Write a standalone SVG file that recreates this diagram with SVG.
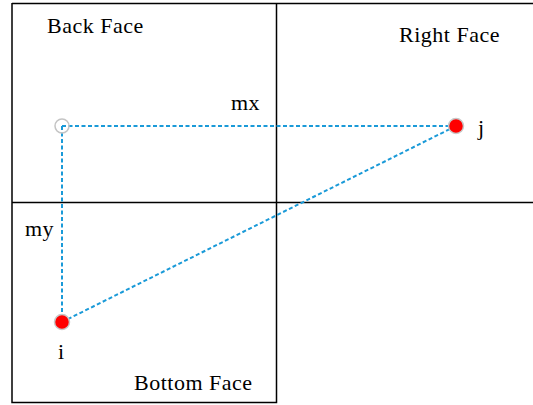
<svg xmlns="http://www.w3.org/2000/svg" width="533" height="405" viewBox="0 0 533 405">
<style>
.f{fill:none;stroke:#000;stroke-width:1.5}
.t{font-family:"Liberation Serif",serif;font-size:22px;letter-spacing:0.5px;fill:#000}
.c{fill:none;stroke:#1a9ad8;stroke-width:2;stroke-dasharray:4 2.5}
.p{fill:#ff0000;stroke:#c8c8c8;stroke-width:1.5}
</style>
<rect width="533" height="405" fill="#fff"/>
<g id="faces">
<path class="f" d="M12,3.5 H533 M12,3 V402.5 H276.5 V3 M12,202.5 H533"/>
</g>
<g id="connectors">
<line class="c" x1="62" y1="126" x2="456" y2="126"/>
<line class="c" x1="62" y1="126" x2="62" y2="322"/>
<line class="c" x1="62" y1="322" x2="456" y2="126"/>
</g>
<g id="ghost"><circle cx="62" cy="126" r="7" fill="none" stroke="#c4c4c4" stroke-width="1.5"/></g>
<g id="node-j"><circle class="p" cx="456" cy="126" r="7.5"/><text class="t" x="478" y="135">j</text></g>
<g id="node-i"><circle class="p" cx="62" cy="322" r="7.5"/><text class="t" x="58" y="359">i</text></g>
<g id="labels">
<text class="t" x="47" y="33">Back Face</text>
<text class="t" x="399" y="42">Right Face</text>
<text class="t" x="231" y="110">mx</text>
<text class="t" x="25" y="236">my</text>
<text class="t" x="134" y="390">Bottom Face</text>
</g>
</svg>
